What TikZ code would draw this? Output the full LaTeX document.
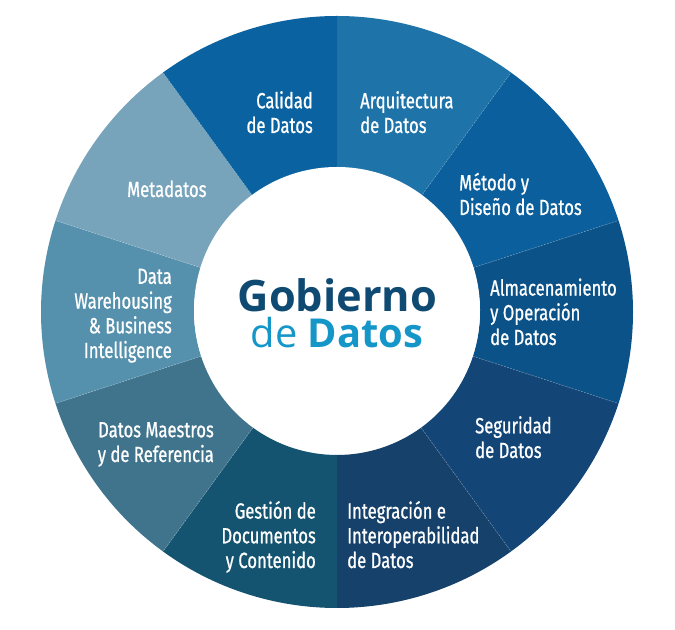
\documentclass[tikz,border=0pt]{standalone}
\usepackage{fontspec}
\setmainfont{Fira Sans}
\newfontfamily\segfont[FakeStretch=0.76,FakeBold=0.8]{Fira Sans}
\newfontfamily\centerfont{Open Sans}
\definecolor{cArq}{HTML}{1E74A9}
\definecolor{cMet}{HTML}{0A5F9C}
\definecolor{cAlm}{HTML}{0B5288}
\definecolor{cSeg}{HTML}{134677}
\definecolor{cInt}{HTML}{16416B}
\definecolor{cGes}{HTML}{145471}
\definecolor{cMae}{HTML}{40748D}
\definecolor{cWar}{HTML}{5591AC}
\definecolor{cMda}{HTML}{78A4BB}
\definecolor{cCal}{HTML}{0A63A0}
\definecolor{cGob}{HTML}{0F4A72}
\definecolor{cDat}{HTML}{1596C9}
\tikzset{
  seglabel/.style={text=white, inner sep=0pt, font=\segfont\fontsize{22}{24.8}\selectfont},
  segL/.style={seglabel, align=left, anchor=base west},
  segR/.style={seglabel, align=right, anchor=base east},
  boundary/.style={white, opacity=0.3, line width=0.6bp, dash pattern=on 1.5bp off 1.5bp}
}
\begin{document}
\begin{tikzpicture}[x=1bp,y=1bp]
\useasboundingbox (0,0) rectangle (675,630);
\coordinate (C) at (337,318);
\begin{scope}[shift={(C)}]
  \foreach \a/\b/\c in {54/90/cArq, 18/54/cMet, -18/18/cAlm, -54/-18/cSeg, -90/-54/cInt,
                        -126/-90/cGes, -162/-126/cMae, 162/198/cWar, 126/162/cMda, 90/126/cCal}{
    \fill[\c] (\a:296) arc[start angle=\a, end angle=\b, radius=296]
      -- (\b:143) arc[start angle=\b, end angle=\a, radius=143] -- cycle;
  }
  \foreach \a in {54,18,-18,-54,-126,-162,162,126}{
    \draw[boundary] (\a:143) -- (\a:296);
  }
  \fill[white] (0,2) circle[radius=143];
\end{scope}
\node[segR] (cal) at (313,497) {Calidad\\de Datos};
\node[segL] (arq) at (360,497) {Arquitectura\\de Datos};
\node[segL] (met) at (459,415) {Método y\\Diseño de Datos};
\node[segL] (alm) at (490,285) {Almacenamiento\\y Operación\\de Datos};
\node[segL] (seg) at (475,172) {Seguridad\\de Datos};
\node[segL] (int) at (347,62) {Integración e\\Interoperabilidad\\de Datos};
\node[segR] (ges) at (316,62) {Gestión de\\Documentos\\y Contenido};
\node[segR] (mae) at (214,168) {Datos Maestros\\y de Referencia};
\node[segR] (war) at (172,272) {Data\\Warehousing\\\& Business\\Intelligence};
\node[segL] (mda) at (127,433) {Metadatos};
\node[anchor=base, inner sep=0pt, text=cGob, font=\centerfont\bfseries\fontsize{43.5}{50}\selectfont] (gob) at (337.5,318) {Gobierno};
\node[anchor=base, inner sep=0pt, text=cDat, font=\centerfont\fontsize{40}{44}\selectfont] (dat) at (337,282) {de \textbf{Datos}};
\end{tikzpicture}
\end{document}
